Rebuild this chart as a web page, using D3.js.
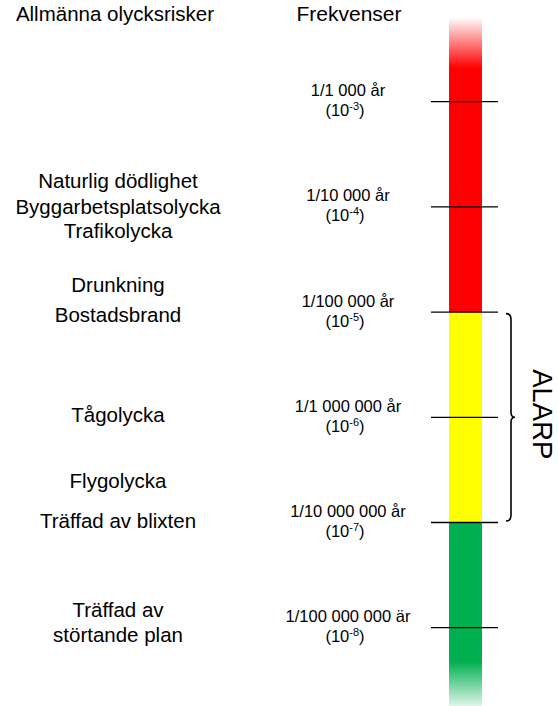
<!DOCTYPE html>
<html><head><meta charset="utf-8">
<script src="https://cdn.jsdelivr.net/npm/d3@7/dist/d3.min.js"></script>
<style>body{margin:0;background:#fff}svg{display:block}text{font-family:"Liberation Sans",Arial,sans-serif;fill:#000}</style>
</head><body>
<script>
// Data
const tickExponents = [-3, -4, -5, -6, -7, -8];
const frequencyLabels = ["1/1 000 år", "1/10 000 år", "1/100 000 år", "1/1 000 000 år", "1/10 000 000 år", "1/100 000 000 är"];
const riskLabels = ["Naturlig dödlighet", "Byggarbetsplatsolycka", "Trafikolycka", "Drunkning", "Bostadsbrand", "Tågolycka", "Flygolycka", "Träffad av blixten", "Träffad av\nstörtande plan"];
const riskExponents = [-3.75, -4.0, -4.23, -4.74, -5.03, -5.98, -6.6, -6.98, -7.95];
const zoneNames = ["red", "yellow", "green"];
const zoneFrom = [-2.21, -5, -7];
const zoneTo = [-5, -7, -8.75];
const zoneColors = ["#ff0000", "#ffff00", "#00b050"];
const alarpFrom = -5, alarpTo = -7, alarpMid = -6;

const W = 558, H = 706;
const svg = d3.select("body").append("svg").attr("width", W).attr("height", H);
const y = d3.scaleLinear().domain([-3, -8]).range([101.7, 627.7]);
const barX = 449, barW = 33;

// gradients
const defs = svg.append("defs");
const gRed = defs.append("linearGradient").attr("id", "gRed").attr("gradientUnits", "userSpaceOnUse")
  .attr("x1", 0).attr("x2", 0).attr("y1", y(zoneFrom[0])).attr("y2", y(-2.68));
gRed.append("stop").attr("offset", 0).attr("stop-color", zoneColors[0]).attr("stop-opacity", 0.03);
gRed.append("stop").attr("offset", 1).attr("stop-color", zoneColors[0]).attr("stop-opacity", 1);
const gGreen = defs.append("linearGradient").attr("id", "gGreen").attr("gradientUnits", "userSpaceOnUse")
  .attr("x1", 0).attr("x2", 0).attr("y1", y(-8.32)).attr("y2", y(zoneTo[2]));
gGreen.append("stop").attr("offset", 0).attr("stop-color", zoneColors[2]).attr("stop-opacity", 1);
gGreen.append("stop").attr("offset", 1).attr("stop-color", zoneColors[2]).attr("stop-opacity", 0.12);

const fills = ["url(#gRed)", zoneColors[1], "url(#gGreen)"];
svg.selectAll("rect.zone").data(zoneNames).join("rect").attr("class", "zone")
  .attr("x", barX).attr("width", barW)
  .attr("y", (d, i) => y(zoneFrom[i]))
  .attr("height", (d, i) => y(zoneTo[i]) - y(zoneFrom[i]))
  .attr("fill", (d, i) => fills[i]);

// ticks
svg.selectAll("line.tick").data(tickExponents).join("line").attr("class", "tick")
  .attr("x1", 431).attr("x2", 498)
  .attr("y1", d => y(d)).attr("y2", d => y(d))
  .attr("stroke", "#000").attr("stroke-width", 1.3);

// frequency labels
const fg = svg.selectAll("g.freq").data(tickExponents).join("g").attr("class", "freq");
fg.append("text").attr("x", 348).attr("y", d => y(d) - 5.5)
  .attr("text-anchor", "middle").attr("font-size", 16.5)
  .text((d, i) => frequencyLabels[i]);
const t2 = fg.append("text").attr("x", 345).attr("y", d => y(d) + 14.5)
  .attr("text-anchor", "middle").attr("font-size", 16.5);
t2.append("tspan").text("(10");
t2.append("tspan").attr("font-size", 11).attr("dy", -6).text(d => String(d));
t2.append("tspan").attr("dy", 6).text(")");

// headers
svg.append("text").attr("x", 115).attr("y", 21).attr("text-anchor", "middle").attr("font-size", 20.5).text("Allmänna olycksrisker");
svg.append("text").attr("x", 349).attr("y", 21).attr("text-anchor", "middle").attr("font-size", 21).text("Frekvenser");

// risk labels
const fs = 20.5;
const rl = svg.selectAll("text.risk").data(riskLabels).join("text").attr("class", "risk")
  .attr("text-anchor", "middle").attr("font-size", fs)
  .attr("x", 118)
  .attr("y", (d, i) => y(riskExponents[i]));
rl.each(function(d) {
  const lines = d.split("\n");
  const sel = d3.select(this);
  const lh = 25;
  lines.forEach((ln, j) => {
    sel.append("tspan").attr("x", 118)
      .attr("dy", j === 0 ? (0.35 * fs - (lines.length - 1) * lh / 2) : lh)
      .text(ln);
  });
});

// brace
const yt = y(alarpFrom) + 1.5, yb = y(alarpTo) - 1.5, ym = y(alarpMid);
const bx0 = 506, bx1 = 511, bx2 = 515;
const p = d3.path();
p.moveTo(bx0, yt);
p.quadraticCurveTo(bx1, yt, bx1, yt + 6);
p.lineTo(bx1, ym - 5);
p.quadraticCurveTo(bx1, ym, bx2, ym);
p.quadraticCurveTo(bx1, ym, bx1, ym + 5);
p.lineTo(bx1, yb - 6);
p.quadraticCurveTo(bx1, yb, bx0, yb);
svg.append("path").attr("d", p.toString()).attr("fill", "none").attr("stroke", "#000").attr("stroke-width", 1.6);

// ALARP
svg.append("text").attr("transform", `translate(533,${ym - 3}) rotate(90)`)
  .attr("text-anchor", "middle").attr("font-size", 27.5).text("ALARP");
</script>
</body></html>
